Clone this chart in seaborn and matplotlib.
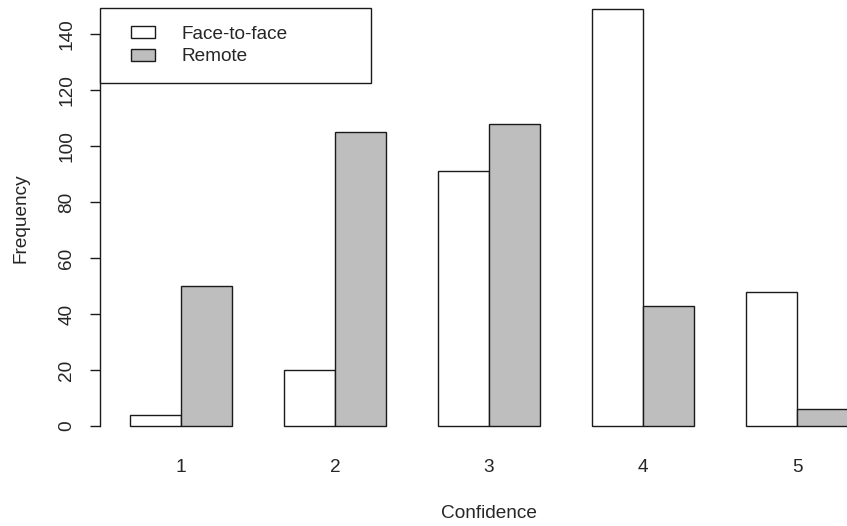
import matplotlib
matplotlib.use("Agg")
import matplotlib.pyplot as plt
from matplotlib.patches import Patch
from matplotlib.legend_handler import HandlerPatch
import seaborn as sns
import pandas as pd

# ---- data ----
confidence = ["1", "2", "3", "4", "5"]
face_to_face = [4, 20, 91, 149, 48]
remote = [50, 105, 108, 43, 6]
groups = ["Face-to-face", "Remote"]
y_ticks = [0, 20, 40, 60, 80, 100, 120, 140]

df = pd.DataFrame({
    "Confidence": confidence * 2,
    "Group": [groups[0]] * len(confidence) + [groups[1]] * len(confidence),
    "Frequency": face_to_face + remote,
})

sns.set_theme(style="white")
plt.rcParams["font.family"] = ["Liberation Sans", "DejaVu Sans"]
FS = 13.7

W, H = 847, 526
fig = plt.figure(figsize=(W / 100, H / 100), dpi=100)
ax_left, ax_right, ax_top, ax_bottom = 100, 847, 0, 440
ax = fig.add_axes([ax_left / W, (H - ax_bottom) / H,
                   (ax_right - ax_left) / W, (ax_bottom - ax_top) / H])

colors = {"Face-to-face": "white", "Remote": "#bebebe"}
sns.barplot(data=df, x="Confidence", y="Frequency", hue="Group",
            order=confidence, hue_order=groups, palette=colors,
            saturation=1, width=2 / 3, edgecolor="#1a1a1a", linewidth=1.0,
            legend=False, ax=ax)

ax.set_xlim(-0.526, 4.3247)
ax.set_ylim(-5, 152.14)
ax.set_yticks(y_ticks)
ax.set_yticklabels([str(v) for v in y_ticks])

for s in ["top", "right", "bottom"]:
    ax.spines[s].set_visible(False)
ax.spines["left"].set_bounds(0, 140)
ax.spines["left"].set_color("#1a1a1a")
ax.spines["left"].set_linewidth(1.0)

ax.tick_params(axis="y", length=7.5, width=1.0, color="#1a1a1a",
               labelsize=FS, labelrotation=90, pad=10.3, left=True)
for lab in ax.get_yticklabels():
    lab.set_va("center")
ax.tick_params(axis="x", length=0, labelsize=FS, pad=13.8)

ax.set_xlabel("Confidence", fontsize=FS)
ax.set_ylabel("Frequency", fontsize=FS)
ax.xaxis.label.set_va("center")
ax.yaxis.label.set_va("center")
ax.xaxis.set_label_coords((489 - ax_left) / (ax_right - ax_left),
                          ((H - 513) - (H - ax_bottom)) / (ax_bottom - ax_top))
ax.yaxis.set_label_coords((21 - ax_left) / (ax_right - ax_left),
                          ((H - 218) - (H - ax_bottom)) / (ax_bottom - ax_top))

handles = [Patch(facecolor=colors[g], edgecolor="#1a1a1a", linewidth=1.0, label=g)
           for g in groups]
hp = HandlerPatch(xpad=0.68)
leg = ax.legend(handles=handles, loc="upper left",
                bbox_to_anchor=(100 / W, 1 - 8 / H, 271 / W, 0),
                bbox_transform=fig.transFigure, mode="expand",
                borderaxespad=0, borderpad=0.93, labelspacing=0.3,
                handlelength=1.95, handleheight=0.58, handletextpad=1.42,
                fontsize=FS, frameon=True, fancybox=False,
                handler_map={Patch: hp})
leg.get_frame().set_edgecolor("#1a1a1a")
leg.get_frame().set_linewidth(1.0)
leg.get_frame().set_facecolor("white")
leg.get_frame().set_alpha(1)

fig.savefig("out.png", dpi=100)
